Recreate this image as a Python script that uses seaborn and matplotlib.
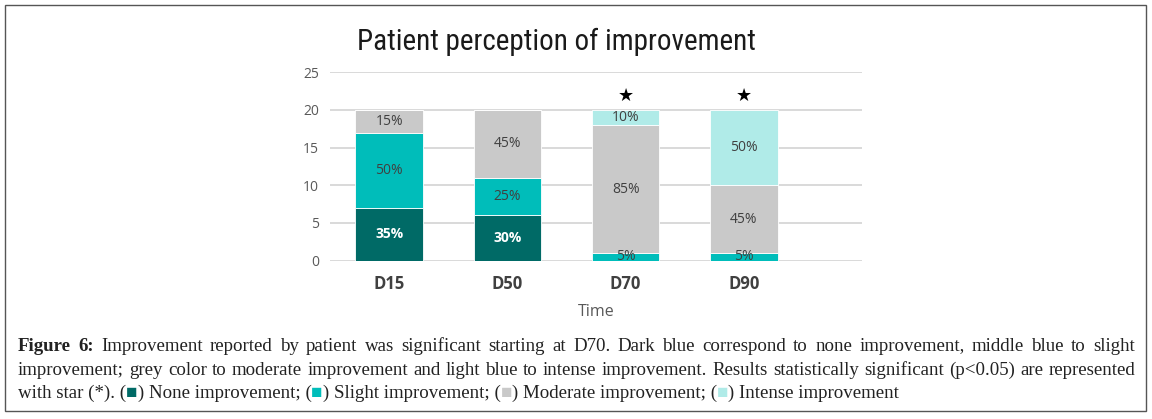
import numpy as np
import pandas as pd
import matplotlib
matplotlib.use("Agg")
import matplotlib.pyplot as plt
import seaborn as sns
from matplotlib.patches import Rectangle

# 数据：每个时间点 20 名患者
times = ["D15", "D50", "D70", "D90"]
none_imp = [7, 6, 0, 0]
slight_imp = [10, 5, 1, 1]
moderate_imp = [3, 9, 17, 9]
intense_imp = [0, 0, 2, 10]
significant = ["D70", "D90"]

levels = ["None improvement", "Slight improvement", "Moderate improvement", "Intense improvement"]
colors = ["#006A66", "#00BDBA", "#C9C9C9", "#B0EBE8"]

sns.set_theme(style="white")
plt.rcParams['font.family'] = ['Open Sans', 'DejaVu Sans']

fig = plt.figure(figsize=(11.52, 4.19), dpi=100)
ax = fig.add_axes([0.2865, 0.378, 0.4618, 0.4496])

series = [none_imp, slight_imp, moderate_imp, intense_imp]
bottom = np.zeros(len(times))
for name, vals, col in zip(levels, series, colors):
    df = pd.DataFrame({"Time": times, "n": vals})
    sns.barplot(data=df, x="Time", y="n", color=col, saturation=1, width=0.57, bottom=bottom,
                edgecolor="white", linewidth=0.6, ax=ax, zorder=3)
    for i, v in enumerate(vals):
        if v > 0:
            dark = col == colors[0]
            ax.text(i, bottom[i] + v / 2, f"{v * 5}%", ha="center", va="center",
                    fontsize=10, color="white" if dark else "#404040",
                    fontweight="bold" if dark else "normal", zorder=5)
    bottom = bottom + np.array(vals)

# 显著性星号
for t in significant:
    i = times.index(t)
    ax.text(i, 21.9, "\u2605", ha="center", va="center", fontsize=13,
            color="black", family="DejaVu Sans")

ax.set_ylim(0, 25)
ax.set_xlim(-0.5, 4.0)
ax.set_yticks([0, 5, 10, 15, 20, 25])
ax.yaxis.grid(True, color="#D9D9D9", linewidth=1.4, zorder=0)
ax.set_axisbelow(True)
for s in ax.spines.values():
    s.set_visible(False)
ax.tick_params(axis="y", labelsize=10, labelcolor="#595959", length=0, pad=8)
ax.tick_params(axis="x", labelsize=12, labelcolor="#404040", length=0, pad=10)
for lab in ax.get_xticklabels():
    lab.set_fontweight("bold")
ax.set_ylabel("")
ax.set_xlabel("Time", fontsize=11.5, color="#595959", labelpad=8)

fig.text(0.483, 0.9, "Patient perception of improvement", ha="center", va="center",
         fontsize=21, color="#1a1a1a", family=["Liberation Sans Narrow", "Roboto Condensed", "Roboto"])

# 外框
fig.patches.append(Rectangle((0.0045, 0.019), 0.99, 0.969, transform=fig.transFigure,
                             fill=False, edgecolor="#555555", linewidth=1.0))

# 图注（两端对齐）
serif = ["Liberation Serif", "DejaVu Serif"]
cap_size = 13.6
k = "#222222"
x0, x1 = 18, 1135
renderer = fig.canvas.get_renderer()


def width_of(txt, weight="normal"):
    t = fig.text(0, 0, txt, fontsize=cap_size, family=serif, fontweight=weight)
    w = t.get_window_extent(renderer).width
    t.remove()
    return w


def justified(words, y, justify=True):
    # words: list of (text, colour, weight)
    ws = [width_of(w, wt) for w, c, wt in words]
    gap = (x1 - x0 - sum(ws)) / (len(words) - 1) if justify else width_of(" ")
    x = x0
    for (w, c, wt), wd in zip(words, ws):
        fig.text(x / 1152, y, w, fontsize=cap_size, family=serif, color=c,
                 fontweight=wt, va="baseline")
        x += wd + gap


line1 = "Improvement reported by patient was significant starting at D70. Dark blue correspond to none improvement, middle blue to slight"
line2 = "improvement; grey color to moderate improvement and light blue to intense improvement. Results statistically significant (p<0.05) are represented"
justified([("Figure", k, "bold"), ("6:", k, "bold")] + [(w, k, "normal") for w in line1.split()], 0.163)
justified([(w, k, "normal") for w in line2.split()], 0.106)

# 最后一行带颜色方块
pieces = [("with star (*). (", k), ("\u25A0", colors[0]), (") None improvement; (", k),
          ("\u25A0", colors[1]), (") Slight improvement; (", k), ("\u25A0", colors[2]),
          (") Moderate improvement; (", k), ("\u25A0", colors[3]), (") Intense improvement", k)]
x = x0
for txt, col in pieces:
    fig.text(x / 1152, 0.05, txt, fontsize=cap_size, family=serif, color=col, va="baseline")
    x += width_of(txt)

fig.savefig("out.png", dpi=100)
